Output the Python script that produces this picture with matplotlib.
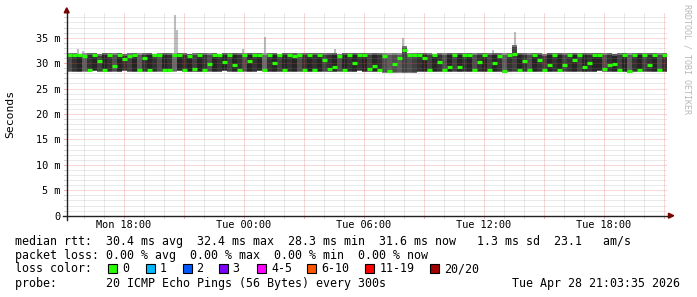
import matplotlib
matplotlib.use('Agg')
import matplotlib.pyplot as plt
from matplotlib.patches import Rectangle, Polygon
from matplotlib.lines import Line2D
import numpy as np

# ---------------- data ----------------
# time axis: hours since Monday 00:00, 15-minute columns over 30 hours
start_hour = 15 + 8 / 60
step_hours = 0.25

median_ms = [
    31.6, 31.6, 31.6, 31.5, 28.6, 31.6, 30.4, 28.7, 31.6, 29.4,
    31.6, 30.9, 31.5, 31.6, 28.6, 31.0, 28.7, 31.6, 31.6, 28.6,
    28.7, 31.6, 31.6, 28.7, 31.5, 28.8, 31.6, 28.6, 29.8, 31.6,
    31.6, 30.3, 31.6, 29.6, 28.6, 31.6, 30.5, 31.7, 31.7, 28.7,
    31.6, 30.0, 31.6, 28.6, 31.6, 31.5, 31.6, 28.7, 31.6, 28.6,
    31.6, 30.6, 28.8, 29.2, 31.5, 28.6, 31.6, 30.1, 31.7, 31.7,
    28.8, 29.4, 28.6, 31.5, 28.5, 29.9, 31.0, 32.5, 31.7, 31.7,
    31.6, 31.0, 28.6, 31.6, 30.3, 28.7, 29.3, 31.6, 29.2, 31.6,
    31.6, 28.6, 30.2, 31.6, 28.7, 30.0, 31.5, 28.5, 31.7, 31.8,
    28.7, 30.4, 28.6, 31.6, 30.6, 28.6, 29.6, 31.6, 28.7, 29.6,
    31.6, 30.6, 31.6, 29.3, 30.0, 31.7, 31.7, 28.8, 29.6, 29.8,
    28.6, 31.6, 28.5, 31.6, 28.6, 31.6, 29.6, 31.6, 28.6, 31.6,
]

rtt_min_ms = [
    28.3, 28.2, 28.3, 28.3, 28.2, 28.4, 28.3, 28.2, 28.3, 28.3,
    28.3, 28.4, 28.3, 28.2, 28.2, 28.3, 28.2, 28.3, 28.3, 28.2,
    28.3, 28.3, 28.4, 28.3, 28.3, 28.2, 28.3, 28.2, 28.3, 28.3,
    28.3, 28.4, 28.3, 28.3, 28.2, 28.3, 28.3, 28.3, 28.4, 28.2,
    28.3, 28.3, 28.3, 28.2, 28.3, 28.3, 28.3, 28.2, 28.3, 28.2,
    28.3, 28.3, 28.2, 28.3, 28.3, 28.2, 28.3, 28.3, 28.4, 28.3,
    28.2, 28.3, 28.2, 28.1, 28.0, 28.1, 28.0, 28.1, 28.0, 28.1,
    28.2, 28.3, 28.2, 28.3, 28.3, 28.2, 28.3, 28.3, 28.2, 28.3,
    28.3, 28.2, 28.3, 28.3, 28.2, 28.3, 28.3, 28.1, 28.2, 28.3,
    28.2, 28.3, 28.2, 28.3, 28.3, 28.2, 28.3, 28.3, 28.2, 28.3,
    28.3, 28.3, 28.3, 28.2, 28.3, 28.3, 28.4, 28.2, 28.3, 28.3,
    28.2, 28.3, 28.1, 28.3, 28.2, 28.3, 28.3, 28.3, 28.2, 28.3,
]

rtt_max_ms = [
    31.9, 31.9, 31.8, 31.9, 31.9, 31.9, 31.8, 31.9, 31.9, 31.9,
    31.9, 31.8, 31.9, 31.9, 31.9, 31.9, 31.9, 31.8, 31.9, 31.9,
    31.9, 32.0, 31.9, 31.9, 31.8, 31.9, 31.9, 31.9, 31.9, 31.9,
    31.8, 31.9, 31.9, 31.9, 31.9, 31.9, 31.9, 31.9, 31.9, 32.0,
    31.9, 31.9, 31.8, 31.9, 31.9, 31.9, 31.9, 31.9, 31.9, 31.9,
    31.9, 31.9, 31.9, 31.9, 31.8, 31.9, 31.9, 31.9, 31.9, 31.9,
    31.9, 31.9, 31.9, 31.9, 31.9, 31.9, 32.0, 33.4, 31.9, 31.9,
    31.9, 31.9, 31.9, 31.8, 31.9, 31.9, 31.9, 31.9, 31.9, 31.9,
    31.9, 31.9, 31.9, 31.9, 31.9, 31.9, 31.9, 31.9, 32.0, 33.6,
    31.9, 31.9, 31.9, 31.9, 31.9, 31.8, 31.9, 31.9, 31.9, 31.9,
    31.9, 31.9, 31.9, 31.9, 31.9, 31.9, 31.9, 31.9, 31.9, 31.8,
    31.9, 31.9, 31.9, 31.9, 31.9, 31.9, 31.9, 31.9, 31.9, 31.9,
]

# smoke density (how tightly the 20 pings overlap), 1 = sparse .. 9 = dense
density = [
    5, 7, 8, 4, 7, 8, 6, 8, 7, 5,
    8, 7, 6, 8, 4, 7, 8, 7, 5, 8,
    7, 3, 8, 7, 8, 6, 8, 7, 5, 8,
    7, 8, 6, 8, 7, 5, 8, 7, 8, 3,
    7, 8, 6, 8, 7, 8, 5, 7, 8, 7,
    8, 6, 7, 8, 5, 8, 7, 8, 7, 8,
    6, 8, 7, 5, 4, 5, 4, 6, 5, 6,
    7, 8, 6, 8, 7, 5, 8, 6, 8, 7,
    8, 5, 7, 8, 6, 8, 7, 4, 7, 6,
    8, 7, 5, 8, 7, 6, 8, 7, 8, 6,
    7, 8, 6, 8, 7, 8, 8, 5, 7, 8,
    6, 8, 4, 7, 8, 6, 7, 8, 5, 7,
]

# isolated outlier pings (hour since Mon 00:00, top in ms)
spike_hours = [15.70, 15.95, 20.55, 20.63, 23.95, 25.05, 28.55, 31.95, 36.45, 37.55]
spike_tops = [32.8, 32.4, 39.5, 36.6, 32.8, 35.1, 32.8, 34.9, 32.6, 36.2]

tick_hours = [18, 24, 30, 36, 42]
tick_labels = ["Mon 18:00", "Tue 00:00", "Tue 06:00", "Tue 12:00", "Tue 18:00"]
ytick_vals = [0, 5, 10, 15, 20, 25, 30, 35]
ytick_labels = ["0", "5 m", "10 m", "15 m", "20 m", "25 m", "30 m", "35 m"]

loss_labels = ["0", "1", "2", "3", "4-5", "6-10", "11-19", "20/20"]
loss_colors = ["#26ff00", "#00b8ff", "#0059ff", "#7e00ff", "#ff00ff",
               "#ff5500", "#ff0000", "#a10000"]

stats_line1 = "median rtt:  30.4 ms avg  32.4 ms max  28.3 ms min  31.6 ms now   1.3 ms sd  23.1   am/s"
stats_line2 = "packet loss: 0.00 % avg  0.00 % max  0.00 % min  0.00 % now"
probe_line = "probe:       20 ICMP Echo Pings (56 Bytes) every 300s"
stamp = "Tue Apr 28 21:03:35 2026"

# ---------------- figure ----------------
W, H = 697, 297
fig = plt.figure(figsize=(W / 100, H / 100), dpi=100)
fig.patch.set_facecolor('white')
MONO = 'DejaVu Sans Mono'


def fx(x):
    return x / W


def fy(y):
    return 1 - y / H


AX_L, AX_R, AX_T, AX_B = 66.7, 666.7, 12.3, 215.7
ax = fig.add_axes([fx(AX_L), fy(AX_B), (AX_R - AX_L) / W, (AX_B - AX_T) / H])
ax.set_facecolor('white')
for s in ax.spines.values():
    s.set_visible(False)

n = len(median_ms)
x_left = start_hour + np.arange(n) * step_hours
x_mid = x_left + step_hours / 2
lo = np.array(rtt_min_ms)
hi = np.array(rtt_max_ms)
dens = np.array(density)

inner_gray = 0.58 - 0.055 * dens
outer_gray = np.clip(inner_gray + 0.2, 0, 0.9)
ax.bar(x_mid, hi - lo, width=step_hours, bottom=lo,
       color=[(g, g, g) for g in outer_gray], linewidth=0, antialiased=False, zorder=2)
ax.bar(x_mid, (hi - 0.35) - (lo + 0.25), width=step_hours, bottom=lo + 0.25,
       color=[(g, g, g) for g in inner_gray], linewidth=0, antialiased=False, zorder=2)

ax.vlines(spike_hours, 31.8, spike_tops, colors=(0.74, 0.74, 0.74), linewidth=1.5, zorder=1.9)

ax.hlines(median_ms, x_left, x_left + step_hours, colors=loss_colors[0],
          linewidth=2.3, zorder=4)

ax.set_xlim(start_hour, start_hour + 30)
ax.set_ylim(0, 40)

grid_c = (0.56, 0.56, 0.56, 0.38)
mgrid_c = (0.87, 0.31, 0.31, 0.45)
for h in range(16, 46):
    c = mgrid_c if h % 3 == 0 else grid_c
    ax.axvline(h, color=c, linewidth=0.72, linestyle=(0, (1, 1)), zorder=3, snap=True)
for v in range(1, 40):
    c = mgrid_c if v % 5 == 0 else grid_c
    ax.axhline(v, color=c, linewidth=0.72, linestyle=(0, (1, 1)), zorder=3, snap=True)

ax.set_xticks(tick_hours)
ax.set_xticklabels(tick_labels)
ax.set_yticks(ytick_vals)
ax.set_yticklabels(ytick_labels)
ax.tick_params(axis='both', length=0, labelsize=7.4)
ax.tick_params(axis='x', pad=3.2)
ax.tick_params(axis='y', pad=4.6)
for lab in ax.get_xticklabels() + ax.get_yticklabels():
    lab.set_family(MONO)

# small tick marks outside the canvas
for h in range(16, 46):
    c = mgrid_c if h % 3 == 0 else grid_c
    px = AX_L + (h - start_hour) * 20
    fig.add_artist(Line2D([fx(px), fx(px)], [fy(AX_B), fy(AX_B + 2.5)], color=c, lw=0.72))
for v in range(1, 40):
    c = mgrid_c if v % 5 == 0 else grid_c
    py = AX_B - v * (AX_B - AX_T) / 40
    fig.add_artist(Line2D([fx(AX_L - 2.5), fx(AX_L)], [fy(py), fy(py)], color=c, lw=0.72))

# axes with arrows
axis_c = '#212121'
arrow_c = '#800000'
fig.add_artist(Line2D([fx(AX_L), fx(AX_L)], [fy(219.5), fy(10)], color=axis_c, lw=1.0))
fig.add_artist(Line2D([fx(63), fx(669)], [fy(AX_B), fy(AX_B)], color=axis_c, lw=1.0))
fig.add_artist(Polygon([[fx(64.2), fy(12.8)], [fx(69.2), fy(12.8)], [fx(66.7), fy(7.8)]],
                       closed=True, color=arrow_c, transform=fig.transFigure))
fig.add_artist(Polygon([[fx(668.5), fy(213.2)], [fx(668.5), fy(218.2)], [fx(673.7), fy(AX_B)]],
                       closed=True, color=arrow_c, transform=fig.transFigure))

# labels
fig.text(fx(10), fy(114), "Seconds", rotation=90, ha='center', va='center',
         family=MONO, fontsize=8.2)
fig.text(fx(686.5), fy(4.5), "RRDTOOL / TOBI OETIKER", rotation=270, ha='center', va='top',
         family=MONO, fontsize=6.0, color=(0.72, 0.72, 0.72))

FS = 8.4
fig.text(fx(15.3), fy(241), stats_line1, ha='left', va='center', family=MONO, fontsize=FS)
fig.text(fx(15.3), fy(255), stats_line2, ha='left', va='center', family=MONO, fontsize=FS)
fig.text(fx(15.3), fy(269), "loss color:", ha='left', va='center', family=MONO, fontsize=FS)
fig.text(fx(15.3), fy(283), probe_line, ha='left', va='center', family=MONO, fontsize=FS)
fig.text(fx(680.5), fy(283), stamp, ha='right', va='center', family=MONO, fontsize=FS)

box_lefts = [108, 146, 183, 219, 257, 307, 365, 430]
label_lefts = [122.5, 159.5, 196.5, 232.5, 271.5, 321.5, 379.5, 444.5]
for bl, ll, lab, col in zip(box_lefts, label_lefts, loss_labels, loss_colors):
    fig.add_artist(Rectangle((fx(bl), fy(272.5)), 8.5 / W, 8.5 / H, transform=fig.transFigure,
                             facecolor=col, edgecolor='black', linewidth=0.8))
    fig.text(fx(ll), fy(269), lab, ha='left', va='center', family=MONO, fontsize=FS)

fig.savefig('out.png', dpi=100, facecolor='white')
